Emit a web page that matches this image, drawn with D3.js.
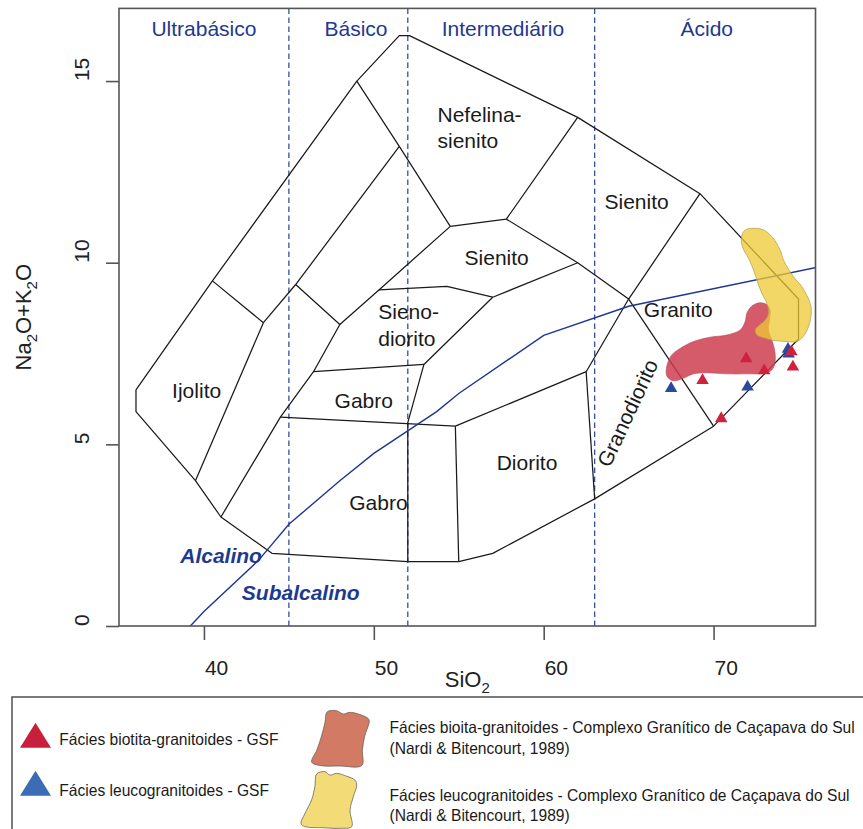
<!DOCTYPE html>
<html>
<head>
<meta charset="utf-8">
<script src="https://cdn.jsdelivr.net/npm/d3@7"></script>
<style>
  html, body { margin: 0; padding: 0; background: #fff; }
  svg { display: block; font-family: "Liberation Sans", Arial, Helvetica, sans-serif; }
</style>
</head>
<body>
<svg id="chart" width="863" height="829"></svg>
<script>
// ---------------- data ----------------
const xTicks = [40, 50, 60, 70];
const yTicks = [0, 5, 10, 15];

// silica classes and their boundaries
const silicaDivisions = [45, 52, 63];
const silicaClasses = ["Ultrabásico", "Básico", "Intermediário", "Ácido"];
const silicaClassCentres = [40, 48.95, 57.6, 69.6];

// plutonic TAS fields (SiO2, Na2O+K2O)
const outerBoundary = [
  [36.0, 6.5], [40.5, 9.5], [49.0, 15.0], [51.5, 16.25], [52.1, 16.25],
  [62.0, 14.0], [69.2, 11.9], [75.0, 9.0], [75.0, 7.9], [70.0, 5.5],
  [63.0, 3.5], [57.0, 2.0], [55.0, 1.77], [52.0, 1.77], [44.0, 2.0],
  [41.0, 3.0], [39.5, 4.0], [36.0, 5.9], [36.0, 6.5]
];
const fieldLines = [
  [[40.5, 9.5], [43.5, 8.35], [39.5, 4.0]],
  [[43.5, 8.35], [45.4, 9.4], [51.5, 13.2], [49.0, 15.0]],
  [[45.4, 9.4], [48.0, 8.3], [46.45, 7.0], [44.5, 5.75], [41.0, 3.0]],
  [[48.0, 8.3], [50.3, 9.25], [54.5, 11.0], [51.5, 13.2]],
  [[54.5, 11.0], [57.8, 11.2], [62.0, 14.0]],
  [[57.8, 11.2], [62.0, 10.0], [65.0, 9.0], [69.2, 11.9]],
  [[50.3, 9.25], [54.3, 9.35], [57.0, 9.05], [62.0, 10.0]],
  [[57.0, 9.05], [52.95, 7.2], [52.0, 5.6], [52.0, 1.77]],
  [[46.45, 7.0], [52.95, 7.2]],
  [[44.5, 5.75], [54.8, 5.5]],
  [[54.8, 5.5], [55.0, 1.77]],
  [[54.8, 5.5], [62.5, 7.0], [65.0, 9.0]],
  [[62.5, 7.0], [63.0, 3.5]],
  [[65.0, 9.0], [70.0, 5.5]]
];
const fieldLabels = [
  {text: "Nefelina-",    x: 53.75, y: 13.88, anchor: "start"},
  {text: "sienito",      x: 53.75, y: 13.17, anchor: "start"},
  {text: "Sienito",      x: 65.47, y: 11.47, anchor: "middle"},
  {text: "Sienito",      x: 57.23, y: 9.94,  anchor: "middle"},
  {text: "Sieno-",       x: 50.26, y: 8.44,  anchor: "start"},
  {text: "diorito",      x: 50.26, y: 7.72,  anchor: "start"},
  {text: "Gabro",        x: 49.41, y: 6.01,  anchor: "middle"},
  {text: "Gabro",        x: 50.27, y: 3.19,  anchor: "middle"},
  {text: "Ijolito",      x: 39.57, y: 6.27,  anchor: "middle"},
  {text: "Diorito",      x: 59.02, y: 4.29,  anchor: "middle"},
  {text: "Granito",      x: 67.92, y: 8.50,  anchor: "middle"},
  {text: "Granodiorito", x: 64.94, y: 5.86,  anchor: "middle", angle: -65}
];

// Irvine & Baragar (1971) alkaline / subalkaline divide
const alkalineDivide = [
  [39.2, 0], [40, 0.4], [43.2, 1.8], [45, 2.8], [48, 4], [50, 4.75],
  [53.7, 5.9], [55, 6.4], [60, 8], [65, 8.8], [77.4, 10]
];
const seriesLabels = [
  {text: "Alcalino",    x: 41.01, y: 1.74},
  {text: "Subalcalino", x: 45.7,  y: 0.72}
];

// Caçapava do Sul granitic complex fields (Nardi & Bitencourt, 1989)
const biotitaCGCS = [
  [67.21, 6.96], [67.29, 7.23], [67.54, 7.46], [68.03, 7.64], [68.82, 7.83],
  [69.8, 7.95], [70.78, 8.01], [71.57, 8.15], [71.86, 8.38], [71.96, 8.61],
  [72.26, 8.81], [72.74, 8.9], [73.14, 8.84], [73.33, 8.7], [73.29, 8.42],
  [73.23, 8.15], [73.43, 7.87], [73.61, 7.55], [73.61, 7.23], [73.43, 7.05],
  [73.04, 6.96], [71.96, 6.94], [70.78, 6.94], [69.61, 6.97], [68.82, 6.94],
  [68.23, 6.82], [67.64, 6.75], [67.29, 6.85]
];
const leucoCGCS = [
  [71.86, 10.9], [72.84, 10.92], [73.43, 10.72], [73.92, 10.35], [74.12, 10.07],
  [74.71, 9.61], [75.2, 9.34], [75.69, 8.88], [75.75, 8.61], [75.59, 8.24],
  [75.26, 7.96], [74.91, 7.83], [74.32, 7.83], [73.43, 7.87], [73.04, 7.92],
  [72.55, 8.01], [72.45, 8.15], [72.64, 8.26], [73.04, 8.42], [73.23, 8.61],
  [73.14, 8.88], [72.84, 9.16], [72.55, 9.52], [72.35, 9.8], [72.06, 10.12],
  [71.73, 10.4], [71.63, 10.67]
];

// samples (SiO2, Na2O+K2O)
const biotitaGSF = [
  [71.92, 7.41], [72.98, 7.08], [74.58, 7.6], [74.67, 7.18], [69.35, 6.81], [70.45, 5.76]
];
const leucoGSF = [
  [67.5, 6.59], [72.0, 6.63], [74.38, 7.67], [74.42, 7.54]
];

// legend entries
const legendSamples = [
  {label: "Fácies biotita-granitoides - GSF", color: "#c8203c"},
  {label: "Fácies leucogranitoides - GSF",    color: "#3a6db3"}
];
const legendFields = [
  {lines: ["Fácies bioita-granitoides - Complexo Granítico de Caçapava do Sul", "(Nardi & Bitencourt, 1989)"], color: "#d27a64"},
  {lines: ["Fácies leucogranitoides - Complexo Granítico de Caçapava do Sul", "(Nardi & Bitencourt, 1989)"], color: "#f3dc78"}
];
// outline of the legend swatches in unit coordinates
const swatchOrange = [
  [0.27, 0.02], [0.43, 0], [0.55, 0.06], [0.66, 0.03], [0.81, 0.06], [0.98, 0.14],
  [1, 0.19], [0.92, 0.46], [0.88, 0.71], [0.87, 0.99], [0.49, 1], [0.14, 0.99],
  [0, 0.93], [0.09, 0.71], [0.17, 0.46], [0.23, 0.22]
];
const swatchYellow = [
  [0.28, 0.04], [0.43, 0], [0.52, 0.06], [0.64, 0.03], [0.82, 0.08], [0.97, 0.15],
  [1, 0.24], [0.94, 0.44], [0.88, 0.68], [0.91, 0.97], [0.7, 1], [0.4, 0.99],
  [0.07, 0.97], [0, 0.92], [0.07, 0.74], [0.19, 0.5], [0.25, 0.26]
];

// ---------------- drawing ----------------
const svg = d3.select("#chart");
const x = d3.scaleLinear().domain([35, 76]).range([119, 815.5]);
const y = d3.scaleLinear().domain([0, 17]).range([626, 8.4]);

const navy = "#1d3a8f";
const line = d3.line().x(d => x(d[0])).y(d => y(d[1]));
const smooth = d3.line().x(d => x(d[0])).y(d => y(d[1])).curve(d3.curveCatmullRomClosed.alpha(0.5));

svg.append("defs").append("clipPath").attr("id", "plotClip")
  .append("rect")
  .attr("x", x(35)).attr("y", y(17))
  .attr("width", x(76) - x(35)).attr("height", y(0) - y(17));

const plot = svg.append("g").attr("clip-path", "url(#plotClip)");

// silica class dividers
plot.selectAll("line.div").data(silicaDivisions).join("line")
  .attr("x1", d => x(d)).attr("x2", d => x(d))
  .attr("y1", y(0)).attr("y2", y(17))
  .attr("stroke", "#34509f").attr("stroke-width", 1.3)
  .attr("stroke-dasharray", "5.5,3.5");

// field boundaries
plot.append("path").attr("d", line(outerBoundary))
  .attr("fill", "none").attr("stroke", "#1a1a1a").attr("stroke-width", 1.25)
  .attr("stroke-linejoin", "round");
plot.selectAll("path.field").data(fieldLines).join("path")
  .attr("d", line)
  .attr("fill", "none").attr("stroke", "#1a1a1a").attr("stroke-width", 1.25)
  .attr("stroke-linejoin", "round");

// alkaline / subalkaline divide
plot.append("path").attr("d", line(alkalineDivide))
  .attr("fill", "none").attr("stroke", "#1f3596").attr("stroke-width", 1.4);

// Caçapava do Sul fields
plot.append("path").attr("d", smooth(biotitaCGCS))
  .attr("fill", "#ce3d50").attr("fill-opacity", 0.85)
  .attr("stroke", "#b84a58").attr("stroke-width", 0.6);
plot.append("path").attr("d", smooth(leucoCGCS))
  .attr("fill", "#efca33").attr("fill-opacity", 0.75)
  .attr("stroke", "#b09a50").attr("stroke-width", 0.7);

// samples
function tri(cx, cy, w, h) {
  const p = d3.path();
  p.moveTo(cx, cy - h / 2);
  p.lineTo(cx + w / 2, cy + h / 2);
  p.lineTo(cx - w / 2, cy + h / 2);
  p.closePath();
  return p.toString();
}
plot.selectAll("path.leuco").data(leucoGSF).join("path")
  .attr("d", d => tri(x(d[0]), y(d[1]), 12.5, 10.8))
  .attr("fill", "#2b4a9f");
plot.selectAll("path.bio").data(biotitaGSF).join("path")
  .attr("d", d => tri(x(d[0]), y(d[1]), 12.5, 10.8))
  .attr("fill", "#d0213e");

// class titles
svg.selectAll("text.cls").data(silicaClasses).join("text")
  .attr("x", (d, i) => x(silicaClassCentres[i])).attr("y", y(16.23))
  .attr("text-anchor", "middle").attr("font-size", 21).attr("fill", navy)
  .text(d => d);

// field names
svg.selectAll("text.field").data(fieldLabels).join("text")
  .attr("transform", d => `translate(${x(d.x)},${y(d.y)})` + (d.angle ? ` rotate(${d.angle})` : ""))
  .attr("dy", d => d.angle ? "0.35em" : null)
  .attr("text-anchor", d => d.anchor)
  .attr("font-size", 21).attr("fill", "#1a1a1a")
  .text(d => d.text);

// series names
svg.selectAll("text.series").data(seriesLabels).join("text")
  .attr("x", d => x(d.x)).attr("y", d => y(d.y))
  .attr("text-anchor", "middle").attr("font-size", 21)
  .attr("font-weight", "bold").attr("font-style", "italic")
  .attr("fill", navy)
  .text(d => d.text);

// frame
svg.append("rect")
  .attr("x", x(35)).attr("y", y(17))
  .attr("width", x(76) - x(35)).attr("height", y(0) - y(17))
  .attr("fill", "none").attr("stroke", "#555").attr("stroke-width", 1.6);

// axes
const xAxis = svg.append("g").attr("transform", `translate(0,${y(0)})`)
  .call(d3.axisBottom(x).tickValues(xTicks).tickSize(14).tickFormat(d3.format("d")));
xAxis.select(".domain").remove();
xAxis.selectAll(".tick line").attr("stroke", "#555").attr("stroke-width", 1.6);
xAxis.selectAll(".tick text")
  .attr("x", 0.5).attr("y", 49).attr("dy", null)
  .attr("text-anchor", "start")
  .attr("font-size", 21).attr("font-family", "Liberation Sans, Arial, sans-serif")
  .attr("fill", "#222");

const yAxis = svg.append("g").attr("transform", `translate(${x(35)},0)`)
  .call(d3.axisLeft(y).tickValues(yTicks).tickSize(13).tickFormat(d3.format("d")));
yAxis.select(".domain").remove();
yAxis.selectAll(".tick line").attr("stroke", "#555").attr("stroke-width", 1.6);
yAxis.selectAll(".tick text")
  .attr("transform", "rotate(-90)")
  .attr("x", 0.5).attr("y", -30).attr("dy", null)
  .attr("text-anchor", "start")
  .attr("font-size", 21).attr("font-family", "Liberation Sans, Arial, sans-serif")
  .attr("fill", "#222");

// axis titles
const xTitle = svg.append("text")
  .attr("x", x(55.5)).attr("y", 686.7)
  .attr("text-anchor", "middle").attr("font-size", 22).attr("fill", "#222");
xTitle.append("tspan").text("SiO");
xTitle.append("tspan").attr("font-size", 15).attr("dy", 6).text("2");

const yTitle = svg.append("text")
  .attr("transform", `translate(31,${y(8.5)}) rotate(-90)`)
  .attr("text-anchor", "middle").attr("font-size", 22).attr("fill", "#222");
yTitle.append("tspan").text("Na");
yTitle.append("tspan").attr("font-size", 15).attr("dy", 6).text("2");
yTitle.append("tspan").attr("dy", -6).text("O+K");
yTitle.append("tspan").attr("font-size", 15).attr("dy", 6).text("2");
yTitle.append("tspan").attr("dy", -6).text("O");

// ---------------- legend ----------------
const legend = svg.append("g");
legend.append("rect")
  .attr("x", 12).attr("y", 697).attr("width", 880).attr("height", 200)
  .attr("fill", "none").attr("stroke", "#444").attr("stroke-width", 1.4);

const sampleRows = [735.3, 783.3];
const sampleBase = [745, 796];
legendSamples.forEach((d, i) => {
  legend.append("path").attr("d", tri(35.5, sampleRows[i], 31, 25)).attr("fill", d.color);
  legend.append("text")
    .attr("transform", `translate(59.3,${sampleBase[i]}) scale(0.945,1)`)
    .attr("font-size", 16.5).attr("fill", "#1a1a1a")
    .text(d.label);
});

const swatchBoxes = [
  {x0: 311.7, x1: 369.3, y0: 710.7, y1: 766, shape: swatchOrange},
  {x0: 301, x1: 356.7, y0: 771.7, y1: 828.3, shape: swatchYellow}
];
const fieldBase = [[733, 754], [801, 821]];
legendFields.forEach((d, i) => {
  const b = swatchBoxes[i];
  const sx = d3.scaleLinear().domain([0, 1]).range([b.x0, b.x1]);
  const sy = d3.scaleLinear().domain([0, 1]).range([b.y0, b.y1]);
  const outline = d3.line().x(p => sx(p[0])).y(p => sy(p[1])).curve(d3.curveCatmullRomClosed.alpha(0.5));
  legend.append("path").attr("d", outline(b.shape))
    .attr("fill", d.color).attr("stroke", "#6b6259").attr("stroke-width", 0.8);
  d.lines.forEach((t, j) => {
    legend.append("text")
      .attr("transform", `translate(389.5,${fieldBase[i][j]}) scale(0.945,1)`)
      .attr("font-size", 16.5).attr("fill", "#1a1a1a")
      .text(t);
  });
});
</script>
</body>
</html>
